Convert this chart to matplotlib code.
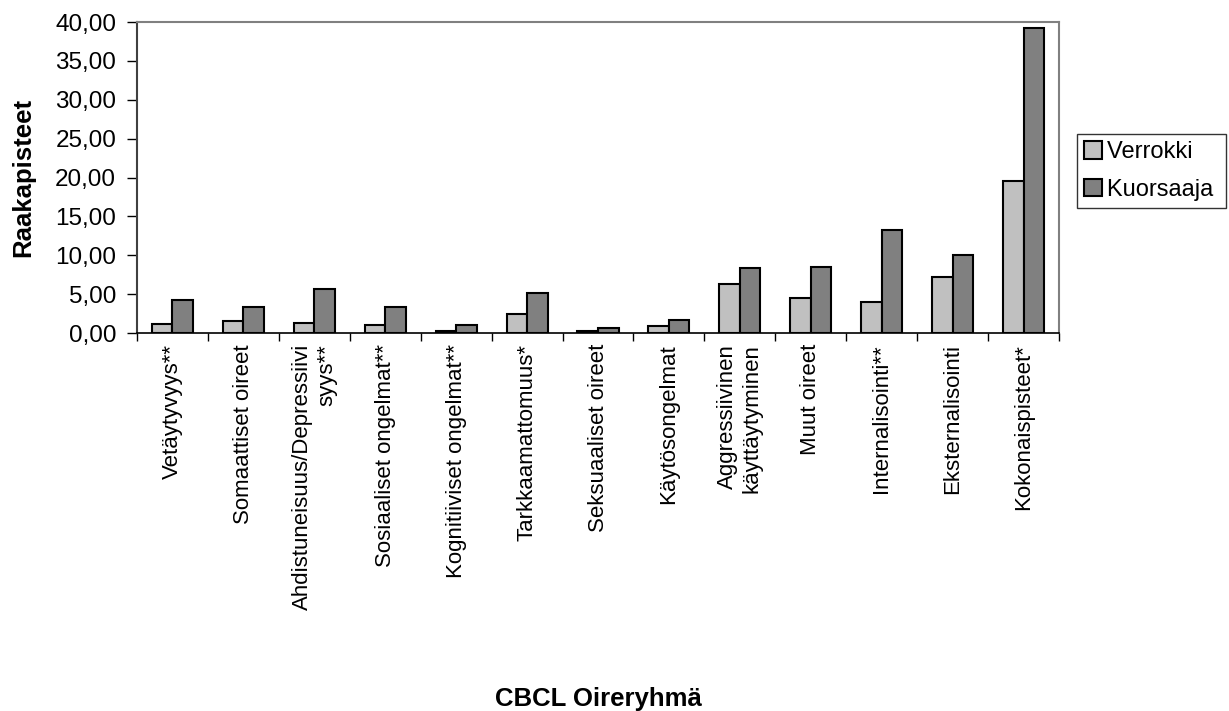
import matplotlib
matplotlib.use("Agg")
import matplotlib.pyplot as plt
import numpy as np
from matplotlib.ticker import FuncFormatter, FixedLocator

plt.rcParams['font.family'] = ['Liberation Sans', 'DejaVu Sans']

categories = [
    "Vetäytyvyys**",
    "Somaattiset oireet",
    "Ahdistuneisuus/Depressiivi\nsyys**",
    "Sosiaaliset ongelmat**",
    "Kognitiiviset ongelmat**",
    "Tarkkaamattomuus*",
    "Seksuaaliset oireet",
    "Käytösongelmat",
    "Aggressiivinen\nkäyttäytyminen",
    "Muut oireet",
    "Internalisointi**",
    "Eksternalisointi",
    "Kokonaispisteet*",
]
verrokki = [1.1, 1.6, 1.35, 1.0, 0.25, 2.5, 0.25, 0.9, 6.25, 4.5, 3.95, 7.2, 19.5]
kuorsaaja = [4.2, 3.35, 5.7, 3.35, 1.05, 5.2, 0.6, 1.7, 8.3, 8.5, 13.2, 10.0, 39.2]

fig = plt.figure(figsize=(12.29, 7.11), dpi=100)
ax = fig.add_axes([137 / 1229, 1 - 333 / 711, 922 / 1229, 311 / 711])

x = np.arange(len(categories))
w = 0.29
ax.bar(x - w / 2, verrokki, w, color='#C0C0C0', edgecolor='black', linewidth=1.5,
       label='Verrokki ')
ax.bar(x + w / 2, kuorsaaja, w, color='#808080', edgecolor='black', linewidth=1.5,
       label='Kuorsaaja ')

ax.set_xlim(-0.5, len(categories) - 0.5)
ax.set_ylim(0, 40)
ax.set_yticks(np.arange(0, 41, 5))
ax.yaxis.set_major_formatter(FuncFormatter(lambda v, p: f"{v:.2f}".replace('.', ',')))
ax.tick_params(axis='y', labelsize=17.5, length=7, width=1, direction='out', pad=8)

# category ticks sit between the groups, labels sit under each group
ax.xaxis.set_major_locator(FixedLocator(np.arange(-0.5, len(categories), 1.0)))
ax.tick_params(axis='x', which='major', length=6, width=1, labelbottom=False)
ax.set_xticks(x, minor=True)
ax.tick_params(axis='x', which='minor', length=0, pad=8)
ax.set_xticklabels(categories, minor=True, rotation=90, fontsize=16,
                   ha='center', va='top', multialignment='right')

for side in ['top', 'right']:
    ax.spines[side].set_color('#808080')
    ax.spines[side].set_linewidth(1.5)
ax.spines['left'].set_color('#404040')
ax.spines['left'].set_linewidth(1.5)
ax.spines['bottom'].set_color('black')
ax.spines['bottom'].set_linewidth(1.2)

fig.text(23 / 1229, 1 - 177 / 711, 'Raakapisteet', rotation=90, fontsize=18.5,
         fontweight='bold', ha='center', va='center')
fig.text(598 / 1229, 1 - 706 / 711, 'CBCL Oireryhmä', fontsize=18.5,
         fontweight='bold', ha='center', va='baseline')

leg = ax.legend(loc='center left', bbox_to_anchor=(1077 / 1229, 1 - 171 / 711),
                bbox_transform=fig.transFigure, fontsize=17, frameon=True,
                fancybox=False, edgecolor='black', handlelength=0.75,
                handleheight=0.75, handletextpad=0.2, borderpad=0.3,
                labelspacing=0.65, borderaxespad=0)
leg.get_frame().set_linewidth(1.0)

fig.savefig('out.png', dpi=100)
